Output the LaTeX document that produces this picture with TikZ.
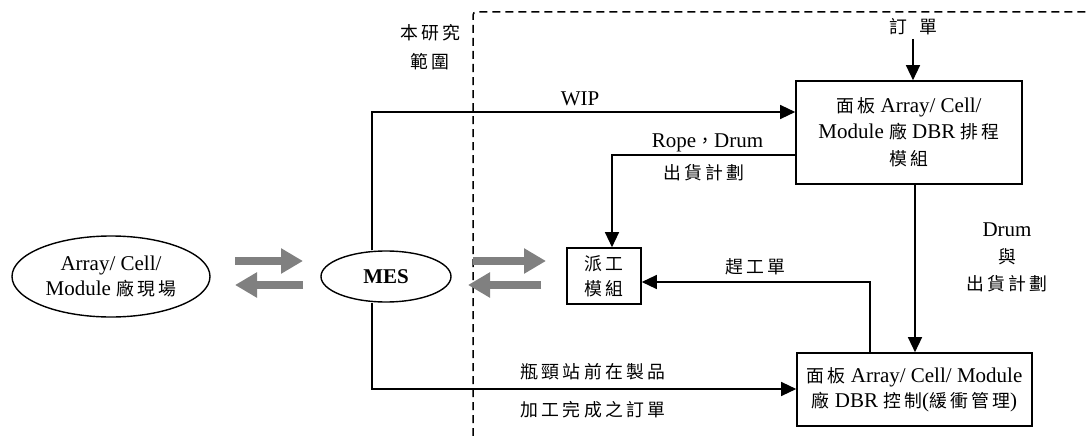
\documentclass[tikz,border=0pt]{standalone}
\usepackage{fontspec}
\setmainfont{Liberation Serif}
\newfontfamily\cjkfont[Scale=0.85,LetterSpace=18]{Noto Sans CJK TC}
\newcommand\zh[1]{{\cjkfont #1}}
\usetikzlibrary{shapes.geometric,arrows.meta}
\definecolor{gar}{RGB}{128,128,128}
\tikzset{
  txt/.style={font=\fontsize{21}{25}\selectfont, align=center, inner sep=0pt},
  box/.style={txt, draw, line width=1.6pt},
  ell/.style={txt, ellipse, draw, line width=1.4pt},
  conn/.style={line width=1.3pt, -{Triangle[length=15pt,width=14pt]}},
  garrow/.style={line width=8pt, draw=gar, -{Triangle[length=22pt,width=24pt]}},
  scopeline/.style={line width=1.5pt, dash pattern=on 8pt off 5pt, rounded corners=3pt},
}
\begin{document}
\begin{tikzpicture}[x=1pt,y=-1pt]
\useasboundingbox (0,0) rectangle (1090,436);
% scope boundary
\draw[scopeline] (473,436) -- (473,12) -- (1090,12);
\node[txt] (scopelbl) at (430,47) {\zh{本研究}\\[4pt]\zh{範圍}};
% nodes
\node[ell, minimum width=198pt, minimum height=81pt] (site) at (111,276.5) {Array/ Cell/\\Module \zh{廠現場}};
\node[ell, minimum width=130pt, minimum height=51pt] (mes) at (386,276.5) {\textbf{MES}};
\node[box, minimum width=226pt, minimum height=103pt] (dbr) at (909,132.5) {\zh{面板} Array/ Cell/\\[1pt]Module \zh{廠} DBR \zh{排程}\\[2pt]\zh{模組}};
\node[box, minimum width=74pt, minimum height=56pt] (disp) at (604,276) {\zh{派工}\\\zh{模組}};
\node[box, minimum width=235pt, minimum height=73pt] (ctrl) at (914.5,389.5) {\zh{面板} Array/ Cell/ Module\\\zh{廠} DBR \zh{控制}(\zh{緩衝管理})};
\node[txt] (order) at (913,27) {\zh{訂}\hspace{12pt}\zh{單}};
% labels
\node[txt] (wiplbl) at (580,99) {WIP};
\node[txt] (ropelbl) at (707.5,143) {Rope\zh{，}Drum};
\node[txt] (shiplbl) at (704,173) {\zh{出貨計劃}};
\node[txt] (rushlbl) at (755,267) {\zh{趕工單}};
\node[txt, font=\fontsize{21}{27}\selectfont] (drumlbl) at (1007,257) {Drum\\\zh{與}\\\zh{出貨計劃}};
\node[txt] (bnlbl) at (593,372) {\zh{瓶頸站前在製品}};
\node[txt] (donelbl) at (593,410) {\zh{加工完成之訂單}};
% connector helper coordinates
\coordinate (wipc) at (372,112);
\coordinate (botc) at (372,389);
\coordinate (ropec) at (612,155);
\coordinate (rushc) at (870,282);
\coordinate (drumx) at (915,0);
\coordinate (ordx) at (913,0);
\coordinate (ordy) at (0,39);
% connectors
\draw[conn] (mes.north -| wipc) -- (wipc) -- (wipc -| dbr.west);
\draw[conn] (mes.south -| botc) -- (botc) -- (botc -| ctrl.west);
\draw[conn] (ropec -| dbr.west) -- (ropec) -- (ropec |- disp.north);
\draw[conn] (rushc |- ctrl.north) -- (rushc) -- (rushc -| disp.east);
\draw[conn] (dbr.south -| drumx) -- (ctrl.north -| drumx);
\draw[conn] (ordx |- ordy) -- (dbr.north -| ordx);
% gray exchange arrows
\coordinate (g1s) at (235,261); \coordinate (g1e) at (303,261);
\coordinate (g2s) at (303,285); \coordinate (g2e) at (235,285);
\coordinate (g3s) at (473,261); \coordinate (g3e) at (546,261);
\coordinate (g4s) at (541,285); \coordinate (g4e) at (468,285);
\draw[garrow] (g1s) -- (g1e);
\draw[garrow] (g2s) -- (g2e);
\draw[garrow] (g3s) -- (g3e);
\draw[garrow] (g4s) -- (g4e);
\end{tikzpicture}
\end{document}
